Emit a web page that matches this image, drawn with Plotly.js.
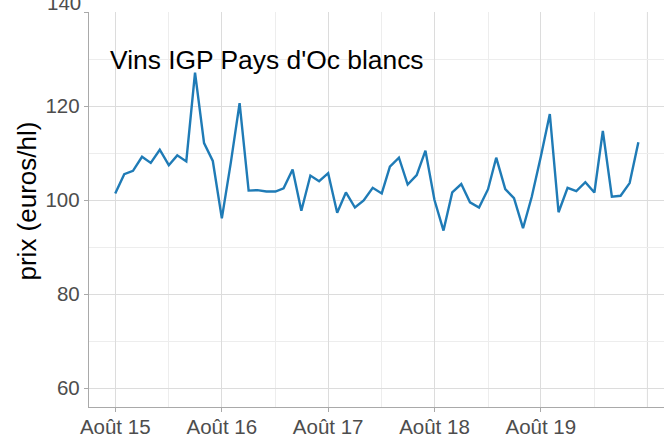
<!DOCTYPE html>
<html>
<head>
<meta charset="utf-8">
<script src="https://cdn.plot.ly/plotly-3.0.1.min.js"></script>
<style>html,body{margin:0;padding:0;background:#fff;overflow:hidden}#chart{width:664px;height:439px}</style>
</head>
<body>
<div id="chart"></div>
<script>
const months = [
  '2015-08-01','2015-09-01','2015-10-01','2015-11-01','2015-12-01',
  '2016-01-01','2016-02-01','2016-03-01','2016-04-01','2016-05-01','2016-06-01',
  '2016-07-01','2016-08-01','2016-09-01','2016-10-01','2016-11-01','2016-12-01',
  '2017-01-01','2017-02-01','2017-03-01','2017-04-01','2017-05-01','2017-06-01',
  '2017-07-01','2017-08-01','2017-09-01','2017-10-01','2017-11-01','2017-12-01',
  '2018-01-01','2018-02-01','2018-03-01','2018-04-01','2018-05-01','2018-06-01',
  '2018-07-01','2018-08-01','2018-09-01','2018-10-01','2018-11-01','2018-12-01',
  '2019-01-01','2019-02-01','2019-03-01','2019-04-01','2019-05-01','2019-06-01',
  '2019-07-01','2019-08-01','2019-09-01','2019-10-01','2019-11-01','2019-12-01',
  '2020-01-01','2020-02-01','2020-03-01','2020-04-01','2020-05-01','2020-06-01',
  '2020-07-01'
];
const prix = [
  101.4, 105.5, 106.2, 109.2, 107.9,
  110.7, 107.4, 109.5, 108.2, 127.1, 112.1,
  108.3, 96.1, 108.0, 120.6, 102.0, 102.1,
  101.8, 101.8, 102.5, 106.5, 97.7, 105.2,
  104.0, 105.7, 97.3, 101.6, 98.4, 99.9,
  102.6, 101.4, 107.1, 109.0, 103.3, 105.3,
  110.5, 100.0, 93.5, 101.6, 103.4, 99.5,
  98.4, 102.3, 109.0, 102.3, 100.4, 94.0,
  100.7, 109.2, 118.3, 97.4, 102.6, 101.9,
  103.8, 101.6, 114.7, 100.7, 100.9, 103.6,
  112.3
];
const xTickVals = ['2015-08-01','2016-08-01','2017-08-01','2018-08-01','2019-08-01'];
const xTickText = ['Août 15','Août 16','Août 17','Août 18','Août 19'];
const xMinorVals = ['2016-02-01','2017-02-01','2018-02-01','2019-02-01','2020-02-01'];
const yTickVals = [60, 80, 100, 120, 140];
const yTickText = ['60', '80', '100', '120', ''];
const yTopLabel = '140';
const yMinorVals = [70, 90, 110, 130];
const titre = "Vins IGP Pays d'Oc blancs";
const yTitre = 'prix (euros/hl)';

const FONT = '"Liberation Sans", Arial, sans-serif';

const trace = {
  x: months, y: prix, type: 'scatter', mode: 'lines',
  line: {color: '#1F7BB6', width: 2.4},
  hoverinfo: 'skip'
};

const layout = {
  width: 664, height: 439,
  margin: {l: 89, r: 0, t: 12, b: 32, pad: 0},
  paper_bgcolor: '#ffffff', plot_bgcolor: '#ffffff',
  showlegend: false,
  font: {family: FONT, color: '#4D4D4D'},
  xaxis: {
    type: 'date',
    range: ['2015-05-03', '2020-09-27'],
    tickmode: 'array', tickvals: xTickVals, ticktext: xTickText,
    tickfont: {size: 20.5, color: '#4D4D4D', family: FONT},
    ticks: 'outside', ticklen: 4, tickcolor: '#A9A9A9', tickwidth: 1,
    ticklabelstandoff: -3,
    showgrid: true, gridcolor: '#DCDCDC', gridwidth: 1,
    minor: {tickmode: 'array', tickvals: xMinorVals, showgrid: true, gridcolor: '#EDEDED', gridwidth: 1, ticks: ''},
    showline: true, linecolor: '#A9A9A9', linewidth: 1.2,
    zeroline: false, fixedrange: true
  },
  yaxis: {
    range: [55.96, 140],
    tickmode: 'array', tickvals: yTickVals, ticktext: yTickText,
    tickfont: {size: 20.5, color: '#4D4D4D', family: FONT},
    ticks: 'outside', ticklen: 4, tickcolor: '#A9A9A9', tickwidth: 1,
    showgrid: true, gridcolor: '#DCDCDC', gridwidth: 1,
    minor: {tickmode: 'array', tickvals: yMinorVals, showgrid: true, gridcolor: '#EDEDED', gridwidth: 1, ticks: ''},
    showline: true, linecolor: '#A9A9A9', linewidth: 1.2,
    zeroline: false, fixedrange: true
  },
  shapes: [{
    type: 'line', layer: 'below', xref: 'x', yref: 'paper',
    x0: '2020-08-01', x1: '2020-08-01', y0: 0, y1: 1,
    line: {color: '#DCDCDC', width: 1}
  }],
  annotations: [
    {
      text: titre, xref: 'x', yref: 'y', x: '2015-07-08', y: 129.8,
      xanchor: 'left', yanchor: 'middle', showarrow: false,
      font: {size: 26.4, color: '#000000', family: FONT}
    },
    {
      text: yTitre, xref: 'paper', yref: 'paper', x: 0, y: 0.5,
      xshift: -63, yshift: 8, xanchor: 'center', yanchor: 'middle',
      textangle: -90, showarrow: false,
      font: {size: 26, color: '#000000', family: FONT}
    },
    {
      text: yTopLabel, xref: 'paper', yref: 'y', x: 0, y: 140,
      xshift: -6, yshift: -4, xanchor: 'right', yanchor: 'bottom',
      showarrow: false,
      font: {size: 20.5, color: '#4D4D4D', family: FONT}
    }
  ]
};

Plotly.newPlot('chart', [trace], layout, {displayModeBar: false, staticPlot: true});
</script>
</body>
</html>
